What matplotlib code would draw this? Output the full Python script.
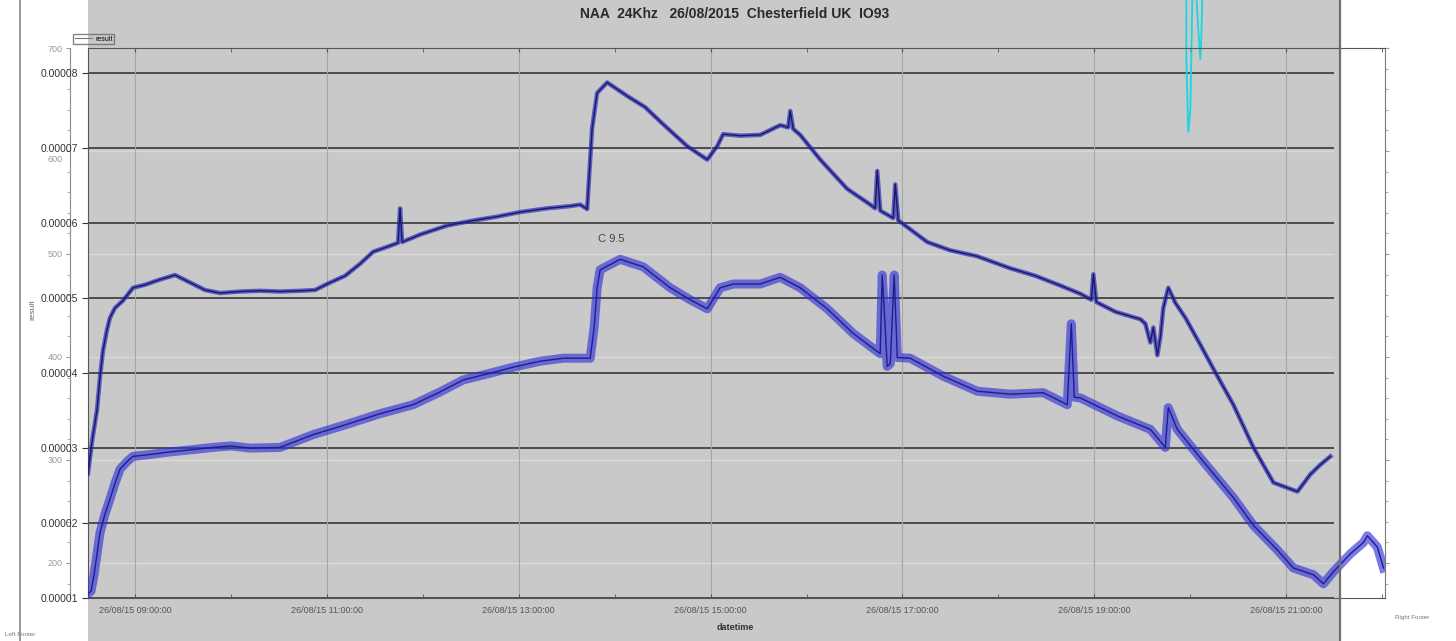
import numpy as np
import matplotlib
matplotlib.use('Agg')
import matplotlib.pyplot as plt
from matplotlib.patches import Rectangle
from matplotlib.lines import Line2D
from matplotlib.ticker import FormatStrFormatter, MultipleLocator
from matplotlib.transforms import ScaledTranslation

plt.rcParams['font.family'] = ['Liberation Sans', 'DejaVu Sans']

# ---- data (hours of 26/08/2015, values in units of 1e-5) ----
title = "NAA  24Khz   26/08/2015  Chesterfield UK  IO93"
tick_hours = [9, 11, 13, 15, 17, 19, 21]
tick_labels = ["26/08/15 09:00:00", "26/08/15 11:00:00", "26/08/15 13:00:00",
               "26/08/15 15:00:00", "26/08/15 17:00:00", "26/08/15 19:00:00",
               "26/08/15 21:00:00"]
y_ticks = [1, 2, 3, 4, 5, 6, 7, 8]
aux_ticks = [200, 300, 400, 500, 600, 700]

upper_hours = [8.510, 8.552, 8.604, 8.635, 8.666, 8.708, 8.739, 8.791, 8.875, 8.979,
               9.104, 9.261, 9.417, 9.574, 9.730, 9.886, 10.095, 10.303, 10.512, 10.721,
               10.877, 11.002, 11.190, 11.346, 11.482, 11.659, 11.742, 11.763, 11.784, 11.972,
               12.253, 12.493, 12.775, 13.015, 13.296, 13.536, 13.640, 13.713, 13.765, 13.817,
               13.922, 14.130, 14.318, 14.474, 14.756, 14.965, 15.069, 15.131, 15.308, 15.517,
               15.726, 15.809, 15.830, 15.861, 15.934, 16.143, 16.424, 16.664, 16.716, 16.737,
               16.768, 16.904, 16.925, 16.956, 17.259, 17.498, 17.780, 18.124, 18.385, 18.645,
               18.854, 18.969, 18.990, 19.021, 19.219, 19.480, 19.532, 19.584, 19.615, 19.657,
               19.688, 19.719, 19.771, 19.844, 19.949, 20.105, 20.262, 20.449, 20.658, 20.867,
               20.992, 21.117, 21.252, 21.357, 21.461]
upper_vals = [2.66, 3.09, 3.51, 3.95, 4.30, 4.58, 4.74, 4.87, 4.97, 5.14,
              5.18, 5.25, 5.31, 5.21, 5.11, 5.07, 5.09, 5.10, 5.09, 5.10,
              5.11, 5.19, 5.30, 5.46, 5.62, 5.70, 5.74, 6.20, 5.75, 5.85,
              5.97, 6.03, 6.09, 6.15, 6.20, 6.23, 6.25, 6.19, 7.27, 7.74,
              7.88, 7.70, 7.55, 7.36, 7.03, 6.85, 7.03, 7.19, 7.17, 7.18,
              7.31, 7.28, 7.50, 7.26, 7.18, 6.85, 6.46, 6.25, 6.20, 6.70,
              6.17, 6.07, 6.52, 6.04, 5.75, 5.64, 5.56, 5.40, 5.30, 5.17,
              5.06, 4.98, 5.32, 4.95, 4.82, 4.72, 4.66, 4.41, 4.61, 4.24,
              4.48, 4.87, 5.14, 4.94, 4.74, 4.38, 4.01, 3.58, 3.01, 2.54,
              2.48, 2.42, 2.65, 2.78, 2.89]

lower_hours = [8.510, 8.541, 8.572, 8.604, 8.635, 8.687, 8.739, 8.791, 8.844, 8.917,
               8.979, 9.125, 9.365, 9.600, 9.813, 10.000, 10.199, 10.512, 10.856, 11.190,
               11.555, 11.899, 12.180, 12.420, 12.702, 12.942, 13.223, 13.463, 13.745, 13.786,
               13.817, 13.849, 14.057, 14.297, 14.579, 14.787, 14.965, 15.100, 15.236, 15.517,
               15.726, 15.934, 16.216, 16.487, 16.737, 16.768, 16.789, 16.820, 16.841, 16.873,
               16.914, 16.946, 17.081, 17.425, 17.780, 18.124, 18.468, 18.718, 18.760, 18.791,
               18.854, 19.240, 19.584, 19.740, 19.771, 19.865, 20.105, 20.449, 20.658, 20.908,
               21.075, 21.284, 21.388, 21.492, 21.669, 21.805, 21.846, 21.950, 22.014]
lower_vals = [1.06, 1.09, 1.30, 1.59, 1.87, 2.12, 2.32, 2.53, 2.72, 2.82,
              2.89, 2.91, 2.95, 2.98, 3.01, 3.03, 3.00, 3.01, 3.18, 3.31,
              3.46, 3.58, 3.75, 3.91, 4.00, 4.08, 4.16, 4.20, 4.20, 4.61,
              5.14, 5.38, 5.52, 5.42, 5.14, 4.98, 4.86, 5.14, 5.19, 5.19,
              5.28, 5.14, 4.86, 4.53, 4.29, 4.26, 5.31, 4.61, 4.09, 4.13,
              5.31, 4.21, 4.20, 3.96, 3.76, 3.72, 3.74, 3.58, 4.66, 3.68,
              3.67, 3.43, 3.25, 3.01, 3.54, 3.25, 2.87, 2.34, 1.97, 1.64,
              1.40, 1.31, 1.19, 1.35, 1.59, 1.74, 1.83, 1.68, 1.40]

cyan_a_hours = [19.959, 19.959, 19.970, 19.980, 20.001, 20.011, 20.022]
cyan_a_vals = [9.05, 8.19, 7.66, 7.22, 7.52, 8.19, 9.05]
cyan_b_hours = [20.063, 20.084, 20.105, 20.115, 20.126]
cyan_b_vals = [9.05, 8.58, 8.19, 8.45, 9.05]

W, H = 1456, 641
fig = plt.figure(figsize=(W / 100, H / 100), dpi=100)

# grey panel behind the plot and the frame lines of the screenshot
fig.patches.append(Rectangle((88 / W, 0), (1340 - 88) / W, 1, transform=fig.transFigure,
                             facecolor='#c9c9c9', edgecolor='none', zorder=-5))
fig.add_artist(Line2D([1340 / W] * 2, [0, 1], transform=fig.transFigure, color='#6e6e6e', lw=1.6))
fig.add_artist(Line2D([20 / W] * 2, [0, 1], transform=fig.transFigure, color='#8a8a8a', lw=1.2))

ax = fig.add_axes([88 / W, 1 - 598 / H, (1385 - 88) / W, (598 - 48) / H])
ax2 = ax.twinx()
ax.set_zorder(ax2.get_zorder() + 1)
ax.patch.set_visible(False)
ax2.patch.set_visible(False)

scale = 1e-5
x0, x1 = 8.51, 22.03
ax.set_xlim(x0, x1)
ax.set_ylim(1.06 * scale, 8.34 * scale)

# secondary (left, outer) axis with the 200..700 scale
ax2.set_ylim(166, 700)
ax2.set_yticks(aux_ticks)
ax2.yaxis.set_minor_locator(MultipleLocator(20))
ax2.yaxis.tick_left()
ax2.tick_params(which='both', left=True, right=True, labelleft=True, labelright=False,
                colors='#9a9a9a', labelsize=6.5, length=3, pad=2)
ax2.tick_params(which='minor', length=2)
ax2.spines['left'].set_position(('outward', 13))
ax2.spines['left'].set_color('#8c8c8c')
ax2.spines['right'].set_color('#777777')
ax2.spines['top'].set_visible(False)
ax2.spines['bottom'].set_visible(False)
ax2.hlines(aux_ticks, x0, 21.5, color='#d9d9d9', lw=1.0, zorder=1)

# main grid
ax.hlines([v * scale for v in y_ticks], x0, 21.5, color='#4c4c4c', lw=1.4, zorder=1)
ax.set_yticks([v * scale for v in y_ticks])
ax.yaxis.set_major_formatter(FormatStrFormatter('%.5f'))
ax.tick_params(axis='y', labelsize=7.5, colors='#333333', length=4, pad=3)
ax.set_xticks(tick_hours)
ax.set_xticklabels(tick_labels)
ax.xaxis.set_minor_locator(MultipleLocator(1))
ax.tick_params(axis='x', which='both', top=True, direction='in', length=3,
               labelsize=6.5, colors='#555555', pad=6)
ax.grid(axis='x', which='major', color='#a6a6a6', lw=0.8)
for s in ['left', 'bottom', 'top']:
    ax.spines[s].set_color('#555555')
ax.spines['right'].set_visible(False)

# the "600" label sits just under "0.00007" in the original
t600 = ax2.yaxis.get_major_ticks()[aux_ticks.index(600)].label1
t600.set_va('top')
t600.set_transform(t600.get_transform() + ScaledTranslation(0, -4 / 100, fig.dpi_scale_trans))

# the two VLF traces: a noisy-looking band and a darker core
low = [v * scale for v in lower_vals]
up = [v * scale for v in upper_vals]
ax.plot(lower_hours, low, color='#3434d8', lw=6.5, alpha=0.65, solid_joinstyle='round', zorder=3)
ax.plot(lower_hours, low, color='#1e1e8c', lw=1.0, zorder=4)
ax.plot(upper_hours, up, color='#2e2eb8', lw=3.2, alpha=0.7, solid_joinstyle='round', zorder=3)
ax.plot(upper_hours, up, color='#18186e', lw=1.0, zorder=4)

ax.plot(cyan_a_hours, [v * scale for v in cyan_a_vals], color='#19d6e0', lw=1.3, clip_on=False)
ax.plot(cyan_b_hours, [v * scale for v in cyan_b_vals], color='#19d6e0', lw=1.3, clip_on=False)

ax.text(13.83, 5.79 * scale, "C 9.5", fontsize=8, color='#444444', va='center')

# texts around the chart
fig.text(735 / W, 1 - 14 / H, title, ha='center', va='center', fontsize=10,
         fontweight='bold', color='#2a2a2a')
fig.text(735 / W, 1 - 628 / H, "datetime", ha='center', va='center', fontsize=6.5,
         fontweight='bold', color='#333333')
fig.text(33 / W, 1 - 310 / H, "result", ha='center', va='center', rotation=90,
         fontsize=6, color='#666666')
fig.text(5 / W, 1 - 634 / H, "Left Footer", ha='left', va='center', fontsize=4.5, color='#777777')
fig.text(1395 / W, 1 - 617 / H, "Right Footer", ha='left', va='center', fontsize=4.5,
         color='#777777')

leg_line = Line2D([], [], color='#777777', lw=0.8)
leg = fig.legend([leg_line], ['result'], loc='upper left', bbox_to_anchor=(70 / W, 1 - 31 / H),
                 fontsize=5, handlelength=2.5, borderpad=0.2, handletextpad=0.4,
                 fancybox=False, edgecolor='#666666')
leg.get_frame().set_facecolor('none')

fig.savefig('out.png', dpi=100)
